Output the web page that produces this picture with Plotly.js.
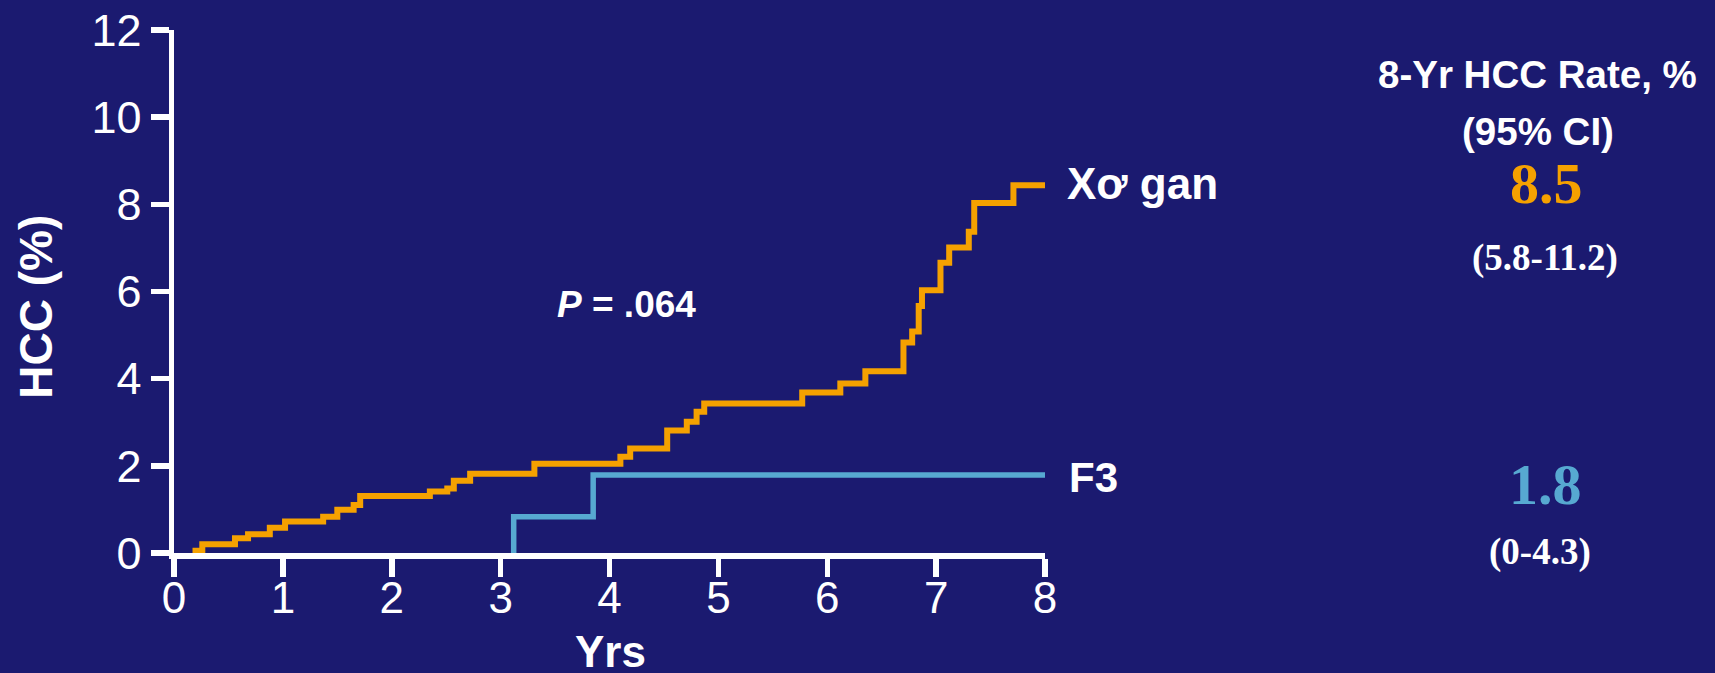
<!DOCTYPE html>
<html>
<head>
<meta charset="utf-8">
<script src="https://cdn.plot.ly/plotly-3.0.1.min.js"></script>
<style>
html,body{margin:0;padding:0;background:#1b1a70;}
#chart{width:1715px;height:673px;}
</style>
</head>
<body>
<div id="chart"></div>
<script>
// Cirrhosis (Xơ gan) cumulative HCC incidence, step points (years, %)
const cirrhosisYears = [0.17, 0.26, 0.56, 0.68, 0.88, 1.02, 1.37, 1.50, 1.65, 1.71, 2.35, 2.51, 2.57, 2.72, 3.31, 4.10, 4.19, 4.53, 4.71, 4.80, 4.87, 5.77, 6.12, 6.35, 6.70, 6.78, 6.84, 6.87, 7.04, 7.12, 7.30, 7.35, 7.71, 8.00];
const cirrhosisHCC   = [0.05, 0.20, 0.34, 0.43, 0.58, 0.72, 0.83, 0.99, 1.10, 1.31, 1.41, 1.48, 1.66, 1.82, 2.05, 2.21, 2.40, 2.81, 3.01, 3.24, 3.43, 3.68, 3.89, 4.17, 4.83, 5.08, 5.67, 6.03, 6.66, 7.01, 7.37, 8.03, 8.44, 8.44];
// F3 fibrosis
const f3Years = [3.12, 3.12, 3.85, 8.00];
const f3HCC   = [0.00, 0.83, 1.79, 1.79];

const xTicks = [0, 1, 2, 3, 4, 5, 6, 7, 8];
const yTicks = [0, 2, 4, 6, 8, 10, 12];

const seriesNames = ["Xơ gan", "F3"];
const rates = ["8.5", "1.8"];
const ciTexts = ["(5.8-11.2)", "(0-4.3)"];
const pValueText = "<i>P</i> = .064";
const yTitle = "HCC (%)";
const xTitle = "Yrs";

const BG = "#1b1a70";
const ORANGE = "#f5a100";
const BLUE = "#57a9d1";
const SANS = "Liberation Sans, Arial, sans-serif";
const SERIF = "Liberation Serif, Times New Roman, serif";

const traces = [
  {x: cirrhosisYears, y: cirrhosisHCC, mode: "lines", line: {shape: "hv", color: ORANGE, width: 6}, name: seriesNames[0], hoverinfo: "skip"},
  {x: f3Years, y: f3HCC, mode: "lines", line: {shape: "hv", color: BLUE, width: 5.5}, name: seriesNames[1], hoverinfo: "skip"}
];

function pxX(px){ return (px - 173.5) / 871.5; }
function pxY(py){ return (553 - py) / 523.4; }

const annotations = [
  {text: "<b>" + yTitle + "</b>", x: pxX(36), y: pxY(307), textangle: -90, font: {size: 46, color: "white", family: SANS}},
  {text: "<b>" + xTitle + "</b>", x: pxX(610), y: pxY(652), font: {size: 44, color: "white", family: SANS}},
  {text: "<b>" + pValueText + "</b>", x: pxX(626), y: pxY(304), font: {size: 37, color: "white", family: SANS}},
  {text: "<b>" + seriesNames[0] + "</b>", x: pxX(1065), y: pxY(183), xanchor: "left", font: {size: 44, color: "white", family: SANS}},
  {text: "<b>" + seriesNames[1] + "</b>", x: pxX(1067), y: pxY(477), xanchor: "left", font: {size: 42, color: "white", family: SANS}},
  {text: "<b>8-Yr HCC Rate, %</b>", x: pxX(1538), y: pxY(74), font: {size: 38.5, color: "white", family: SANS}},
  {text: "<b>(95% CI)</b>", x: pxX(1538), y: pxY(131), font: {size: 38.5, color: "white", family: SANS}},
  {text: "<b>" + rates[0] + "</b>", x: pxX(1547), y: pxY(183), font: {size: 58, color: ORANGE, family: SERIF}},
  {text: "<b>" + ciTexts[0] + "</b>", x: pxX(1545), y: pxY(258), font: {size: 37, color: "white", family: SERIF}},
  {text: "<b>" + rates[1] + "</b>", x: pxX(1546), y: pxY(484), font: {size: 58, color: BLUE, family: SERIF}},
  {text: "<b>" + ciTexts[1] + "</b>", x: pxX(1540), y: pxY(552), font: {size: 37, color: "white", family: SERIF}}
].map(a => Object.assign({xref: "paper", yref: "paper", showarrow: false, xanchor: "center", yanchor: "middle"}, a));

const layout = {
  width: 1715, height: 673,
  paper_bgcolor: BG, plot_bgcolor: BG,
  margin: {l: 173.5, r: 670, t: 29.6, b: 120, pad: 0},
  showlegend: false,
  xaxis: {
    range: [0, 8], tickvals: xTicks, ticktext: xTicks.map(String),
    showgrid: false, zeroline: false, showline: true, linecolor: "white", linewidth: 5.5,
    ticks: "outside", ticklen: 18, tickwidth: 5.5, tickcolor: "white",
    ticklabelstandoff: -16,
    tickfont: {size: 44, color: "white", family: SANS},
    automargin: false, fixedrange: true
  },
  yaxis: {
    range: [0, 12], tickvals: yTicks, ticktext: yTicks.map(String),
    showgrid: false, zeroline: false, showline: true, linecolor: "white", linewidth: 5.5,
    ticks: "outside", ticklen: 18, tickwidth: 5.5, tickcolor: "white",
    tickfont: {size: 45, color: "white", family: SANS},
    automargin: false, fixedrange: true
  },
  annotations: annotations
};

Plotly.newPlot("chart", traces, layout, {displayModeBar: false, staticPlot: true});
</script>
</body>
</html>
